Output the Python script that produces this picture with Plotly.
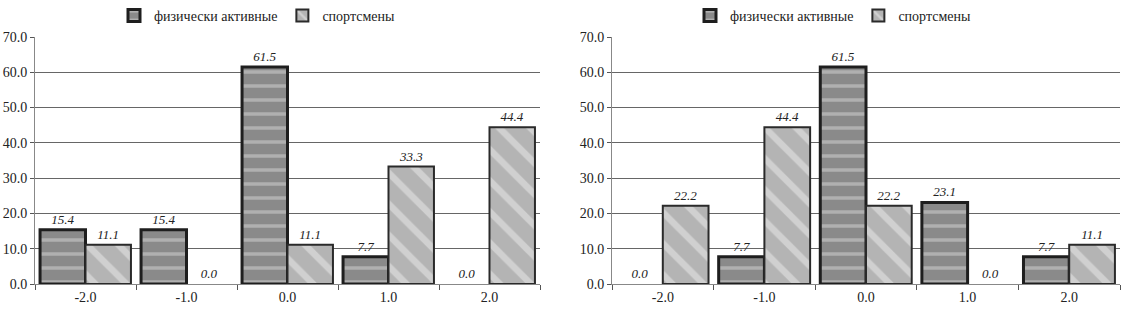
import plotly.graph_objects as go

categories = ["-2.0", "-1.0", "0.0", "1.0", "2.0"]
series_names = ["физически активные", "спортсмены"]
left_active = [15.4, 15.4, 61.5, 7.7, 0.0]
left_sport = [11.1, 0.0, 11.1, 33.3, 44.4]
right_active = [0.0, 7.7, 61.5, 23.1, 7.7]
right_sport = [22.2, 44.4, 22.2, 0.0, 11.1]
y_ticks = [0, 10, 20, 30, 40, 50, 60, 70]

FONT = "Liberation Serif, Times New Roman, DejaVu Serif, serif"
W, H = 1123, 313

def px_x(p):
    return min(1.0, max(0.0, p / W))

def px_y(p):
    return min(1.0, max(0.0, (H - p) / H))

fig = go.Figure()

styles = [
    dict(color="#8a8a8a", lc="#1e1e1e", lw=3,
         pattern=dict(shape="-", fgcolor="#d6d6d6", size=14, solidity=0.25)),
    dict(color="#b4b4b4", lc="#2a2a2a", lw=2,
         pattern=dict(shape="\\", fgcolor="#ececec", size=22, solidity=0.3)),
]

panels = [
    ("x", "y", "legend", "L", [left_active, left_sport]),
    ("x2", "y2", "legend2", "R", [right_active, right_sport]),
]

for xa, ya, lg, tag, data in panels:
    for i, (name, vals, st) in enumerate(zip(series_names, data, styles)):
        grp = f"{tag}{i}"
        # legend entry (shares the bar slot of the real series)
        fig.add_trace(go.Bar(
            x=[categories[0]], y=[None], name=name, xaxis=xa, yaxis=ya, legend=lg,
            legendgroup=grp, showlegend=True, offsetgroup=str(i),
            marker=dict(color=st["color"], pattern=st["pattern"],
                        line=dict(color=st["lc"], width=st["lw"])),
            hoverinfo="skip",
        ))
        fig.add_trace(go.Bar(
            x=categories, y=vals, name=name, xaxis=xa, yaxis=ya, legend=lg,
            legendgroup=grp, showlegend=False, offsetgroup=str(i),
            marker=dict(color=st["color"], pattern=st["pattern"],
                        line=dict(color=st["lc"], width=[st["lw"] if v > 0 else 0 for v in vals])),
            texttemplate="%{y:.1f}", textposition="outside", cliponaxis=False,
            textfont=dict(family=FONT, size=13, color="#222", style="italic"),
        ))

ydom = [px_y(284), px_y(37)]
xcommon = dict(type="category", tickson="boundaries", ticks="outside", ticklen=5,
               tickcolor="#555", showline=True, linecolor="#888", linewidth=1,
               showgrid=False, tickfont=dict(family=FONT, size=14, color="#222"),
               automargin=False)
ycommon = dict(range=[0, 70], tickvals=y_ticks, tickformat=".1f", ticks="outside",
               ticklen=4, tickcolor="#555", showline=True, linecolor="#888",
               showgrid=True, gridcolor="#666", gridwidth=1, zeroline=False,
               tickfont=dict(family=FONT, size=14, color="#222"), domain=ydom,
               automargin=False)

fig.update_layout(
    width=W, height=H,
    margin=dict(l=0, r=0, t=0, b=0),
    paper_bgcolor="white", plot_bgcolor="white",
    barmode="group", bargap=0.1, bargroupgap=0.0,
    font=dict(family=FONT, color="#222"),
    xaxis=dict(domain=[px_x(35), px_x(540)], anchor="y", **xcommon),
    yaxis=dict(anchor="x", **ycommon),
    xaxis2=dict(domain=[px_x(612), px_x(1120)], anchor="y2", **xcommon),
    yaxis2=dict(anchor="x2", **ycommon),
    legend=dict(orientation="h", x=px_x(257), xanchor="center", y=1.0, yanchor="top",
                font=dict(family=FONT, size=14, color="#222"), itemwidth=30,
                bgcolor="rgba(0,0,0,0)"),
    legend2=dict(orientation="h", x=px_x(833), xanchor="center", y=1.0, yanchor="top",
                 font=dict(family=FONT, size=14, color="#222"), itemwidth=30,
                 bgcolor="rgba(0,0,0,0)"),
    showlegend=True,
)

fig.write_html("out.html", config={"displayModeBar": False},
               post_script="document.body.style.margin='0';")
